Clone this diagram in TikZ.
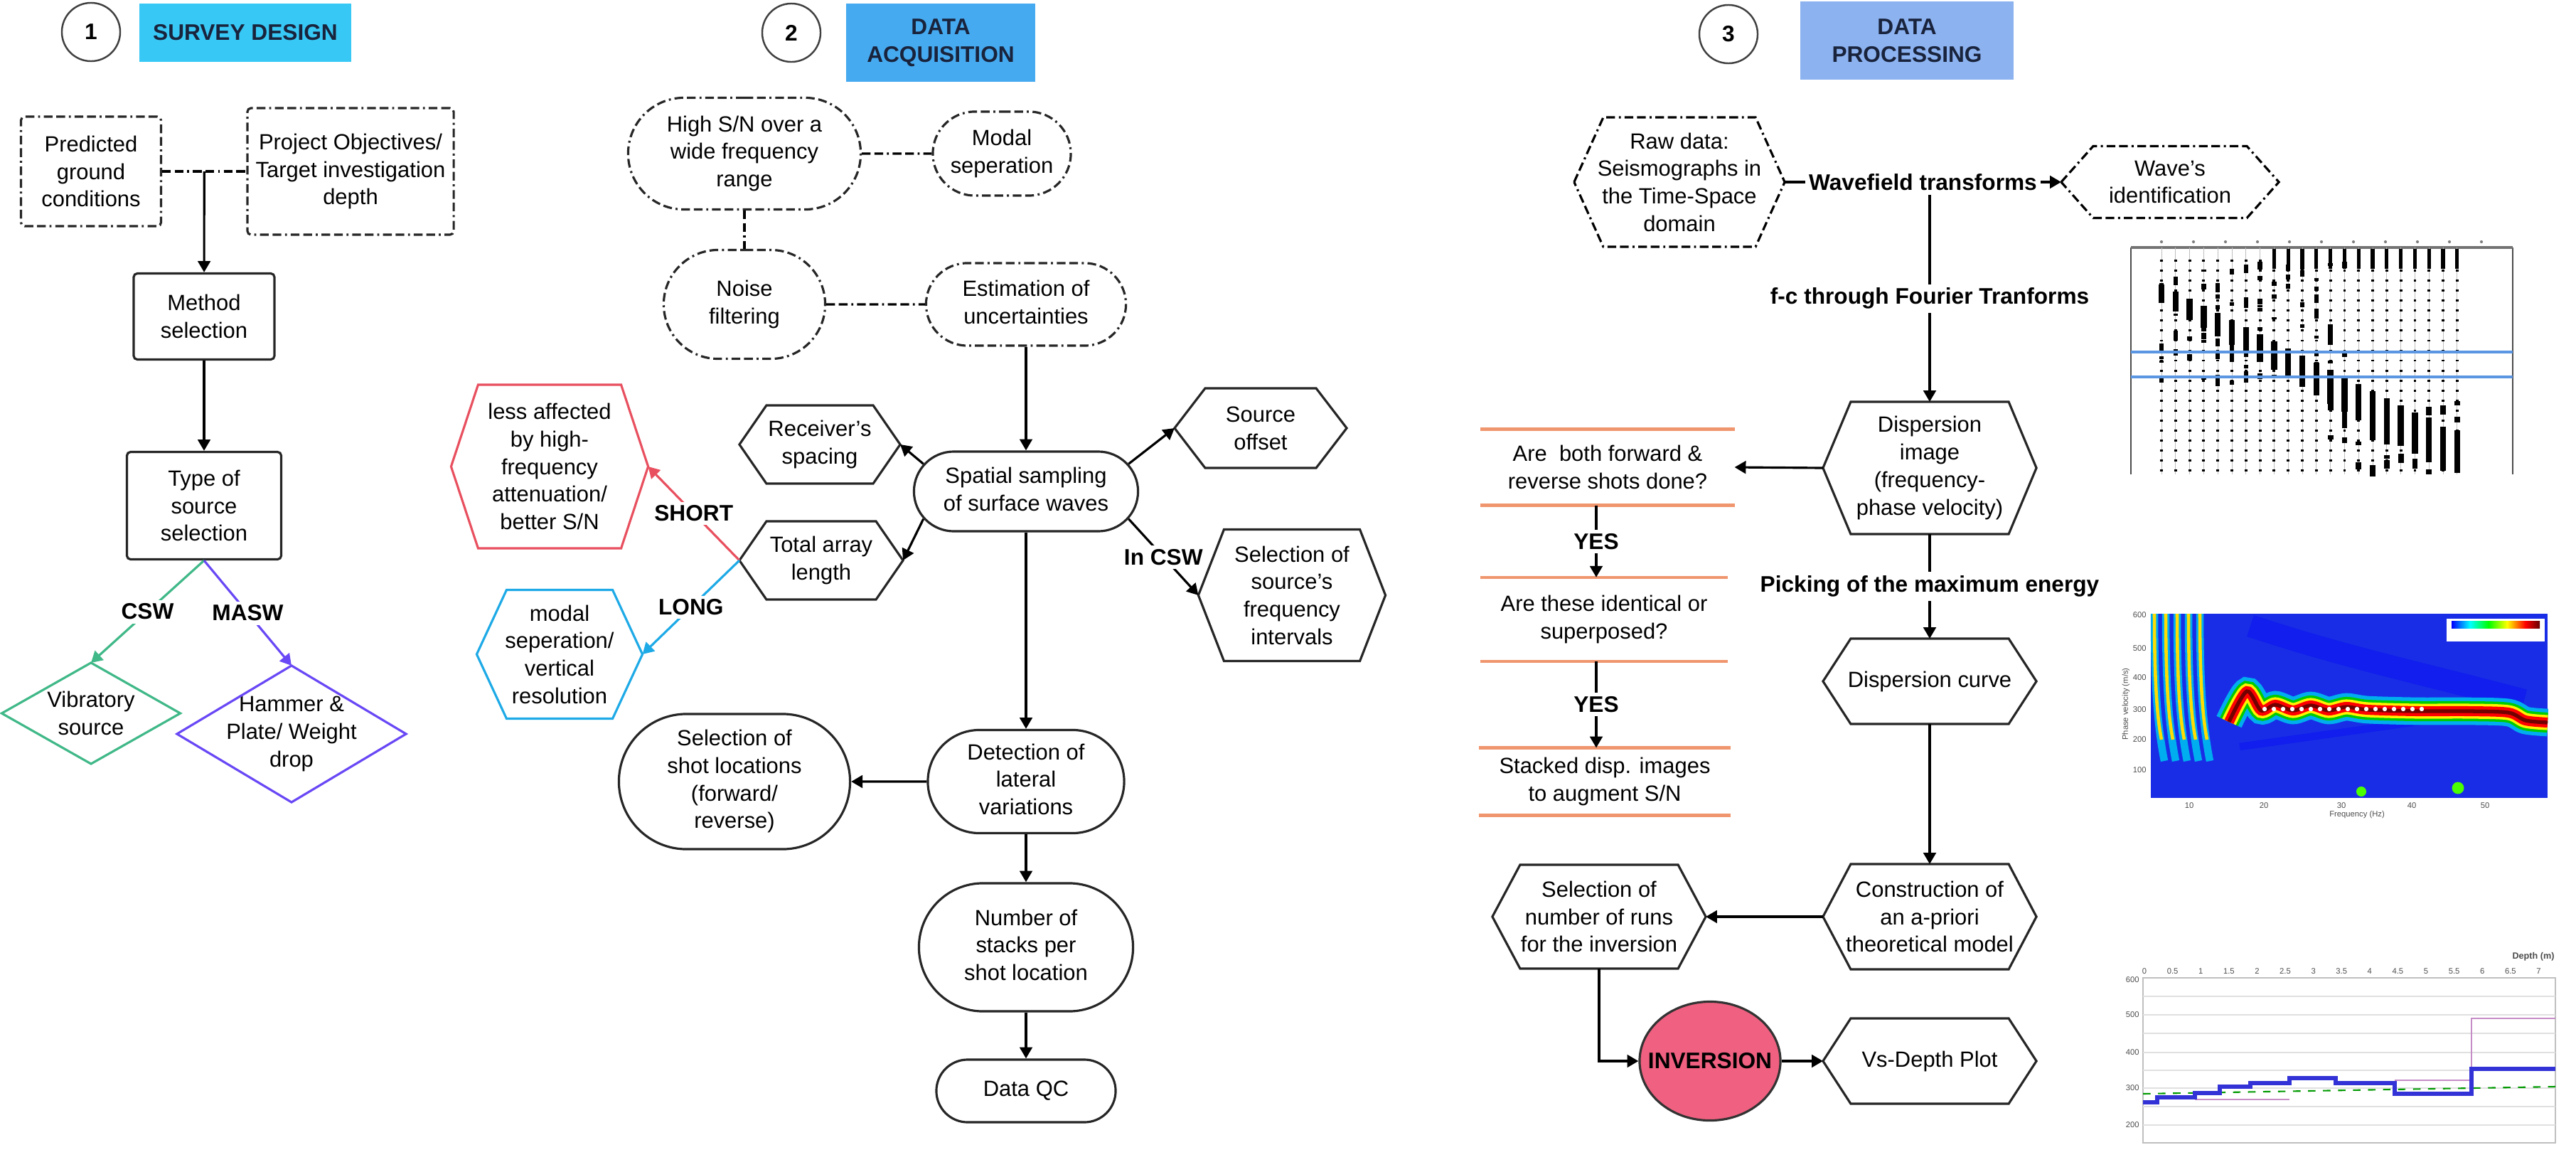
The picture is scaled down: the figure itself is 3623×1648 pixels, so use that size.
\documentclass[tikz,border=0pt]{standalone}
\usepackage{fontspec}
\setmainfont{Liberation Sans}
\usepackage{tikz}
\usetikzlibrary{shapes.misc,shapes.geometric,arrows.meta,calc}

\definecolor{surveyblue}{RGB}{56,200,245}
\definecolor{acqblue}{RGB}{70,170,240}
\definecolor{procblue}{RGB}{140,178,240}
\definecolor{titleink}{RGB}{25,35,60}
\definecolor{cswgreen}{RGB}{64,184,136}
\definecolor{maswviolet}{RGB}{105,72,245}
\definecolor{shortred}{RGB}{232,80,95}
\definecolor{longblue}{RGB}{30,170,230}
\definecolor{qorange}{RGB}{240,150,110}
\definecolor{invpink}{RGB}{240,96,128}
\definecolor{dispblue}{RGB}{25,45,230}
\definecolor{stepblue}{RGB}{50,50,215}
\definecolor{pickline}{RGB}{90,150,225}

\newcommand{\hexframe}[3][]{%
  \draw[#1] (#2.west) -- ([xshift=#3]#2.north west) -- ([xshift=-#3]#2.north east)
    -- (#2.east) -- ([xshift=-#3]#2.south east) -- ([xshift=#3]#2.south west) -- cycle;}
\newcommand{\diaframe}[2][]{%
  \draw[#1] (#2.north) -- (#2.east) -- (#2.south) -- (#2.west) -- cycle;}
\newcommand{\ctext}[1]{\makebox[0pt]{\begin{tabular}{@{}c@{}}#1\end{tabular}}}

\begin{document}
\begin{tikzpicture}[x=0.01cm, y=-0.01cm, line width=0.9pt,
  font=\fontsize{8.8}{11}\selectfont,
  >={Triangle[length=4.5pt,width=5pt]},
  numcirc/.style={circle, draw=black!75, line width=0.7pt, minimum size=0.82cm, inner sep=0pt, font=\bfseries\fontsize{9}{11}\selectfont},
  title/.style={fill=#1, text=titleink, align=center, inner sep=0pt, font=\bfseries\fontsize{9}{11}\selectfont},
  dashdot/.style={dash pattern=on 3.5pt off 1.5pt on 3.5pt off 1.5pt on 0.8pt off 1.5pt},
  box/.style={draw=black!85, rounded corners=1.5pt, align=center, inner sep=0pt},
  dashbox/.style={box, dashdot},
  pill/.style={rounded rectangle, draw=black!85, inner sep=0pt},
  dashpill/.style={pill, dashdot},
  hexnode/.style={align=center, inner sep=0pt, outer sep=0pt},
  lbl/.style={fill=white, text=black, inner sep=1.5pt, font=\bfseries\fontsize{9}{11}\selectfont},
  qline/.style={qorange, line width=1.2pt},
  dashline/.style={dashdot},
  tiny/.style={inner sep=0.5pt, text=black!70, font=\fontsize{3.2}{3.8}\selectfont}]
\useasboundingbox (0,0) rectangle (3623,1648);

% 1 survey design
\node[numcirc] (c1) at (128,45) {1};
\node[title=surveyblue, minimum width=2.98cm, minimum height=0.82cm] (t1) at (345,46) {SURVEY DESIGN};
\node[dashbox, minimum width=1.97cm, minimum height=1.54cm] (pred) at (128,241) {Predicted\\ground\\conditions};
\node[dashbox, minimum width=2.90cm, minimum height=1.78cm] (proj) at (493,241) {Project Objectives/\\Target investigation\\depth};
\coordinate (j1) at ($(pred.east)!0.5!(proj.west)$);
\node[box, minimum width=1.98cm, minimum height=1.21cm] (meth) at (287,445) {Method\\selection};
\node[box, minimum width=2.17cm, minimum height=1.51cm] (type) at (287,711) {Type of\\source\\selection};
\node[hexnode, minimum width=2.51cm, minimum height=1.42cm] (vib) at (128,1003) {Vibratory\\source};
\node[hexnode, minimum width=3.22cm, minimum height=1.92cm] (ham) at (410,1032) {Hammer \&\\Plate/ Weight\\drop};
\diaframe[cswgreen]{vib}
\diaframe[maswviolet]{ham}
\draw[dashline] (pred) -- (proj);
\draw[->] (j1) -- (meth);
\draw[->] (meth) -- (type);
\draw[->, cswgreen] (type.south) -- node[lbl] {CSW} (vib.north);
\draw[->, maswviolet] (type.south) -- node[lbl] {MASW} (ham.north);

% 2 data acquisition
\node[numcirc] (c2) at (1113,46) {2};
\node[title=acqblue, minimum width=2.66cm, minimum height=1.09cm] (t2) at (1323,60) {DATA\\ACQUISITION};
\node[dashpill, minimum width=3.27cm, minimum height=1.57cm] (hsn) at (1047,216) {\ctext{High S/N over a\\wide frequency\\range}};
\node[dashpill, minimum width=1.94cm, minimum height=1.18cm] (modal) at (1409,216) {\ctext{Modal\\seperation}};
\node[dashpill, minimum width=2.27cm, minimum height=1.53cm] (noise) at (1047,428) {\ctext{Noise\\filtering}};
\node[dashpill, minimum width=2.81cm, minimum height=1.16cm] (unc) at (1443,428) {\ctext{Estimation of\\uncertainties}};
\node[pill, minimum width=3.15cm, minimum height=1.12cm] (spat) at (1443,691) {\ctext{Spatial sampling\\of surface waves}};
\node[hexnode, minimum width=2.26cm, minimum height=1.10cm] (recv) at (1153,625) {Receiver's\\spacing};
\node[hexnode, minimum width=2.30cm, minimum height=1.10cm] (arrlen) at (1155,788) {Total array\\length};
\node[hexnode, minimum width=2.42cm, minimum height=1.12cm] (offs) at (1773,602) {Source\\offset};
\node[hexnode, minimum width=2.63cm, minimum height=1.85cm] (freq) at (1817,837) {Selection of\\source's\\frequency\\intervals};
\node[hexnode, minimum width=2.77cm, minimum height=2.30cm] (short) at (773,656) {less affected\\by high-\\frequency\\attenuation/\\better S/N};
\node[hexnode, minimum width=2.33cm, minimum height=1.81cm] (long) at (787,920) {modal\\seperation/\\vertical\\resolution};
\node[pill, minimum width=2.76cm, minimum height=1.45cm] (lat) at (1443,1099) {\ctext{Detection of\\lateral\\variations}};
\node[pill, minimum width=3.25cm, minimum height=1.90cm] (shot) at (1033,1099) {\ctext{Selection of\\shot locations\\(forward/\\reverse)}};
\node[pill, minimum width=3.01cm, minimum height=1.80cm] (stack) at (1443,1332) {\ctext{Number of\\stacks per\\shot location}};
\node[pill, minimum width=2.52cm, minimum height=0.88cm] (qc) at (1443,1534) {\ctext{Data QC}};
\hexframe[draw=black!85]{recv}{0.38cm}
\hexframe[draw=black!85]{arrlen}{0.38cm}
\hexframe[draw=black!85]{offs}{0.43cm}
\hexframe[draw=black!85]{freq}{0.36cm}
\hexframe[shortred]{short}{0.38cm}
\hexframe[longblue]{long}{0.42cm}
\draw[dashline] (hsn) -- (modal);
\draw[dashline] (hsn) -- (noise);
\draw[dashline] (noise) -- (unc);
\draw[->] (unc) -- (spat);
\draw[->] (spat.165) -- (recv.east);
\draw[->] (spat.195) -- (arrlen.east);
\draw[->] (spat.15) -- (offs.west);
\draw[->] (spat.-15) -- node[lbl] {In CSW} (freq.west);
\draw[->, shortred] (arrlen.west) -- node[lbl] {SHORT} (short.east);
\draw[->, longblue] (arrlen.west) -- node[lbl] {LONG} (long.east);
\draw[->] (spat) -- (lat);
\draw[->] (lat) -- (shot);
\draw[->] (lat) -- (stack);
\draw[->] (stack) -- (qc);

% 3 data processing
\node[numcirc] (c3) at (2431,48) {3};
\node[title=procblue, minimum width=3.0cm, minimum height=1.1cm] (t3) at (2682,57) {DATA\\PROCESSING};
\node[hexnode, minimum width=2.96cm, minimum height=1.82cm] (raw) at (2362,256) {Raw data:\\Seismographs in\\the Time-Space\\domain};
\node[hexnode, minimum width=3.06cm, minimum height=1.01cm] (wave) at (3052,256) {Wave's\\identification};
\hexframe[dashdot]{raw}{0.41cm}
\hexframe[dashdot]{wave}{0.45cm}
\node[hexnode, minimum width=3.0cm, minimum height=1.86cm] (dimg) at (2714,658) {Dispersion\\image\\(frequency-\\phase velocity)};
\node[hexnode, minimum width=3.0cm, minimum height=1.20cm] (dcur) at (2714,958) {Dispersion curve};
\node[hexnode, minimum width=3.0cm, minimum height=1.48cm] (apri) at (2714,1289) {Construction of\\an a-priori\\theoretical model};
\node[hexnode, minimum width=3.0cm, minimum height=1.46cm] (runs) at (2249,1289) {Selection of\\number of runs\\for the inversion};
\node[hexnode, minimum width=3.0cm, minimum height=1.20cm] (vsd) at (2714,1492) {Vs-Depth Plot};
\node[ellipse, draw=black!80, fill=invpink, minimum width=1.98cm, minimum height=1.67cm, inner sep=0pt, font=\bfseries\fontsize{9}{11}\selectfont] (inv) at (2405,1492) {\makebox[0pt]{INVERSION}};
\foreach \h in {dimg,dcur,apri,runs,vsd}
  \hexframe[draw=black!85]{\h}{0.39cm};
\node[hexnode, minimum width=3.57cm, minimum height=1.07cm] (q1) at (2261,657) {Are~ both forward \&\\reverse shots done?};
\node[hexnode, minimum width=3.47cm, minimum height=1.185cm] (q2) at (2256,871) {Are these identical or\\superposed?};
\node[hexnode, minimum width=3.54cm, minimum height=0.95cm] (q3) at (2257,1099) {Stacked disp. images\\to augment S/N};
\foreach \q in {q1,q2,q3} {
  \draw[qline] (\q.north west) -- (\q.north east);
  \draw[qline] (\q.south west) -- (\q.south east);
}
\draw[->] (raw.east) -- node[lbl] (wft) {Wavefield transforms} (wave.west);
\draw[->] (wft.south -| dimg.north) -- node[lbl] {f-c through Fourier Tranforms} (dimg.north);
\draw[->] (dimg.west) -- (q1.east);
\draw[->] ([xshift=-0.16cm]q1.south) -- node[lbl] {YES} ([xshift=-0.16cm]q1.south |- q2.north);
\draw[->] ([xshift=-0.11cm]q2.south) -- node[lbl] {YES} ([xshift=-0.11cm]q2.south |- q3.north);
\draw[->] (dimg) -- node[lbl] {Picking of the maximum energy} (dcur);
\draw[->] (dcur) -- (apri);
\draw[->] (apri.west) -- (runs.east);
\draw[->] (runs.south) |- (inv.west);
\draw[->] (inv) -- (vsd.west);

% seismograms
\pgfmathsetseed{11}
\draw[black!70, line width=0.6pt] (2997,348) -- (2997,667) (3534,348) -- (3534,667);
\draw[black!55, line width=1.4pt] (2997,348) -- (3534,348);
\foreach \i in {0,...,10}
  \fill[black!50] (3040+45*\i,340) circle (0.6pt);
\foreach \i in {0,...,21} {
  \pgfmathsetmacro\tx{3040+19.8*\i}
  \pgfmathsetmacro\ta{400+10*\i}
  \pgfmathsetmacro\tb{min(\ta+26+1.8*\i,665)}
  \draw[black!25, line width=0.3pt] (\tx,348) -- (\tx,667);
  \draw[black, line width=1.1pt, dash pattern=on 0.8pt off 3.2pt] (\tx,365) -- (\tx,667);
  \draw[black, line width=2.4pt] (\tx,\ta) -- (\tx,\tb);
}
\foreach \i in {8,...,21}
  \draw[black, line width=1.5pt] (3040+19.8*\i,350) -- (3040+19.8*\i,378);
\foreach \k in {1,...,110} {
  \pgfmathsetmacro\ti{int(random(0,13))}
  \pgfmathsetmacro\ty{365+random(0,170)}
  \pgfmathsetmacro\tl{3+random(0,9)}
  \draw[black, line width=1.8pt] (3040+19.8*\ti,\ty) -- (3040+19.8*\ti,\ty+\tl);
}
\foreach \k in {1,...,50} {
  \pgfmathsetmacro\ti{int(random(12,21))}
  \pgfmathsetmacro\ty{560+random(0,100)}
  \pgfmathsetmacro\tl{4+random(0,10)}
  \draw[black, line width=2.2pt] (3040+19.8*\ti,\ty) -- (3040+19.8*\ti,\ty+\tl);
}
\draw[pickline, line width=1pt] (2997,495) -- (3534,495) (2997,530) -- (3534,530);

% dispersion image
\fill[dispblue] (3025,863) rectangle (3583,1122);
\draw[blue!45!dispblue, line width=9pt, opacity=0.7] (3165,880) .. controls (3300,925) and (3420,950) .. (3550,985);
\draw[blue!45!dispblue, line width=3pt, opacity=0.7] (3150,1050) -- (3420,1012);
\foreach \x in {3030,3046,3062,3078,3094} {
  \draw[cyan, line width=3pt] (\x,863) .. controls (\x,960) and (\x+4,1020) .. (\x+14,1070);
  \draw[yellow!80!orange, line width=1.3pt] (\x,863) .. controls (\x,960) and (\x+4,1010) .. (\x+10,1040);
}
\foreach \c/\w in {cyan/11pt, green!80!black/8pt, yellow/6pt, red/4pt, red!45!black/1.5pt}
  \draw[color=\c, line width=\w] plot[smooth] coordinates {(3135,1015) (3160,972) (3180,999) (3200,991) (3225,999) (3250,992) (3275,999) (3300,994) (3330,998) (3400,1000) (3470,1000) (3528,1002) (3552,1013) (3583,1016)};
\foreach \x in {3185,3198,...,3415}
  \fill[white] (\x,997) circle (0.9pt);
\fill[green!70!yellow] (3321,1113) circle (2pt) (3457,1108) circle (2.4pt);
\fill[white] (3441,870) rectangle (3579,902);
\shade[left color=blue, right color=cyan] (3448,873) rectangle (3474,883);
\shade[left color=cyan, right color=green] (3474,873) rectangle (3500,883);
\shade[left color=green, right color=yellow] (3500,873) rectangle (3526,883);
\shade[left color=yellow, right color=red] (3526,873) rectangle (3552,883);
\shade[left color=red, right color=red!40!black] (3552,873) rectangle (3572,883);
\foreach \v/\y in {600/865, 500/912, 400/953, 300/998, 200/1040, 100/1083}
  \node[tiny, anchor=east] (fv\v) at (3022,\y) {\v};
\foreach \v/\x in {10/3079, 20/3184, 30/3293, 40/3392, 50/3495}
  \node[tiny] (ff\v) at (\x,1133) {\v};
\node[tiny] (fflbl) at (3315,1146) {Frequency (Hz)};
\node[tiny, rotate=90] (fvlbl) at (2990,990) {Phase velocity (m/s)};

% vs-depth plot
\draw[black!25, line width=0.8pt] (3014,1375) rectangle (3594,1607);
\foreach \y in {1401,1427,1453,1480,1505,1530,1556,1582}
  \draw[black!12, line width=0.4pt] (3014,\y) -- (3594,\y);
\foreach \d [count=\k from 0] in {0,0.5,1,1.5,2,2.5,3,3.5,4,4.5,5,5.5,6,6.5,7}
  \node[tiny] (dep\k) at (3016+39.6*\k,1366) {\d};
\node[tiny, font=\bfseries\fontsize{3.6}{4}\selectfont] (deplbl) at (3563,1345) {Depth (m)};
\foreach \v/\y in {600/1378, 500/1427, 400/1480, 300/1530, 200/1582}
  \node[tiny, anchor=east] (vs\v) at (3012,\y) {\v};
\draw[violet!45, line width=0.7pt] (3087,1546) -- (3220,1546);
\draw[violet!45, line width=0.7pt] (3368,1519) -- (3476,1519) -- (3476,1432) -- (3594,1432);
\draw[green!60!black, dashed, line width=0.6pt] (3014,1538) -- (3594,1528);
\draw[stepblue, line width=1.6pt] (3014,1550) -- (3034,1550) -- (3034,1543) -- (3087,1543) -- (3087,1537) -- (3122,1537) -- (3122,1528) -- (3165,1528) -- (3165,1523) -- (3220,1523) -- (3220,1516) -- (3285,1516) -- (3285,1523) -- (3368,1523) -- (3368,1538) -- (3476,1538) -- (3476,1503) -- (3594,1503);
\end{tikzpicture}
\end{document}
